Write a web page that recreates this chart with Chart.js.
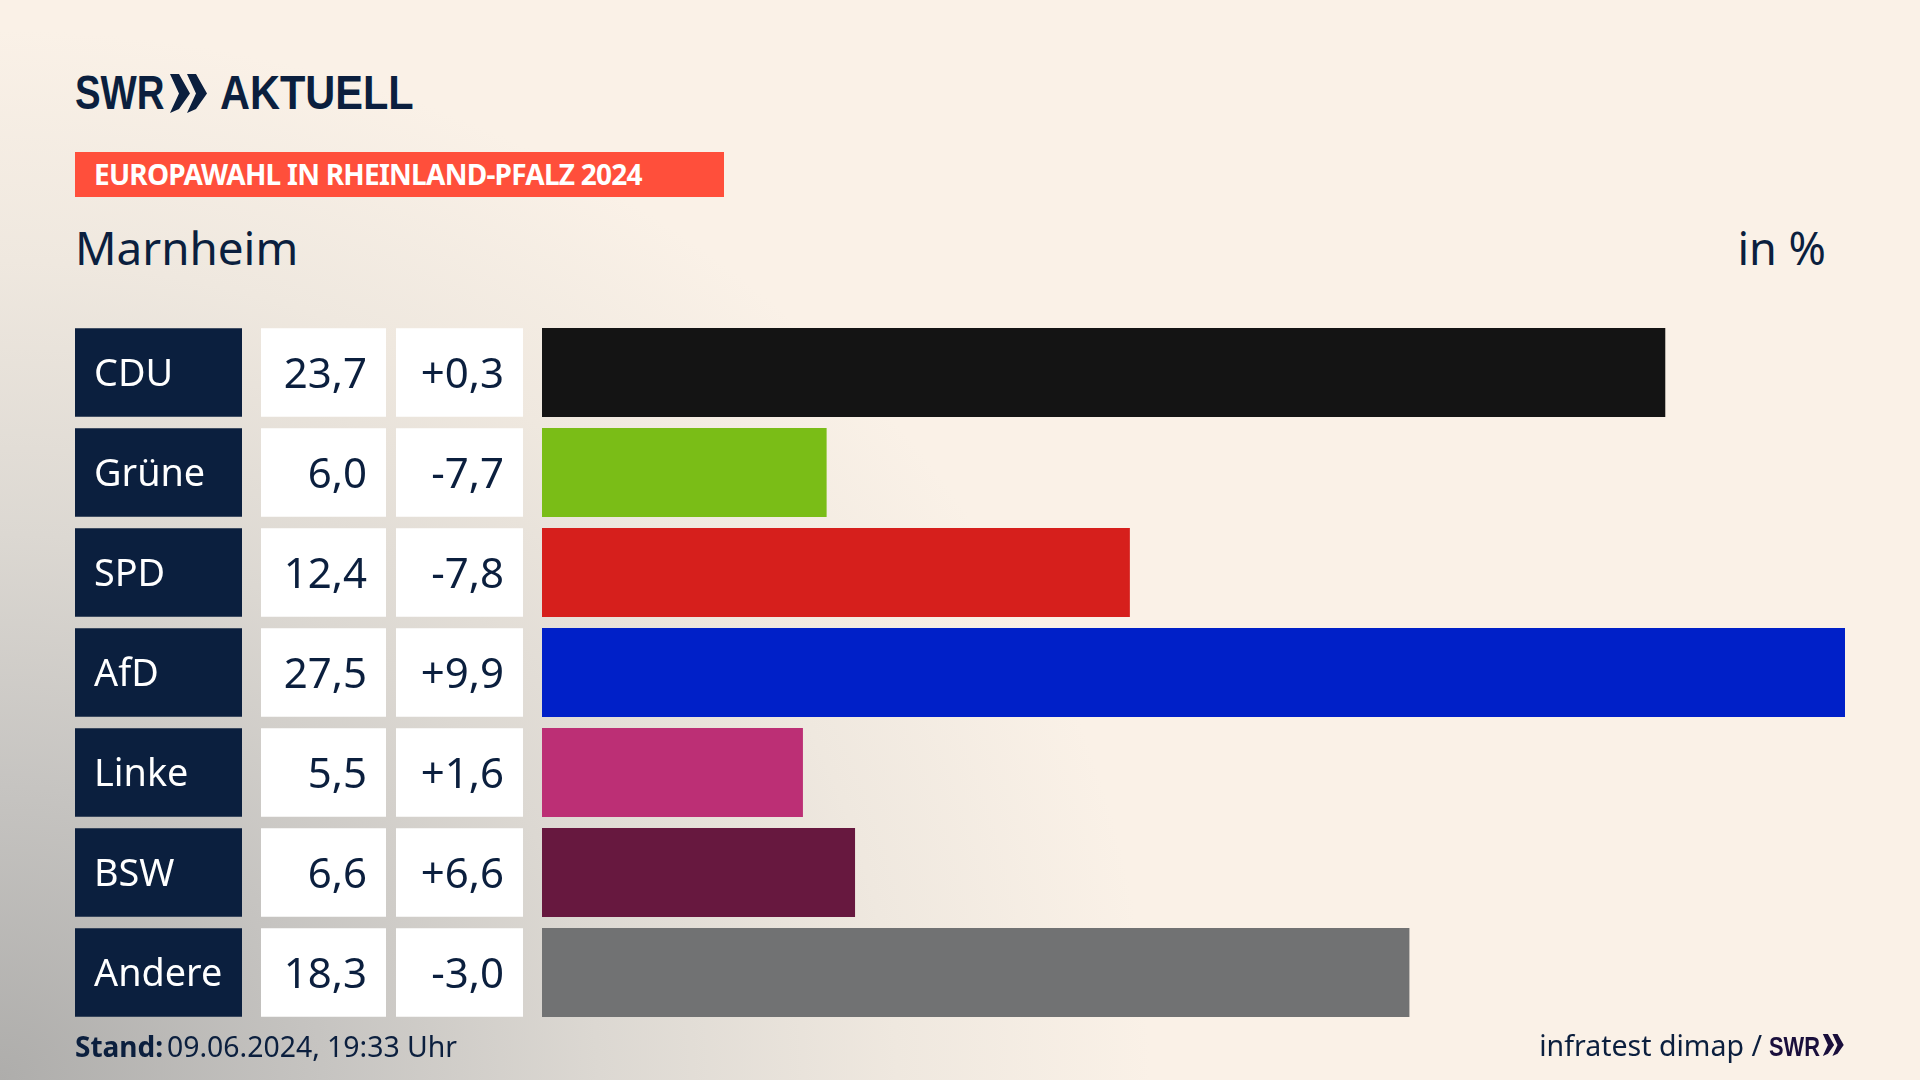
<!DOCTYPE html>
<html lang="de">
<head>
<meta charset="utf-8">
<title>Europawahl Marnheim</title>
<script src="https://cdn.jsdelivr.net/npm/chart.js@4"></script>
<style>
  html, body { margin: 0; padding: 0; }
  body {
    width: 1920px; height: 1080px; overflow: hidden; position: relative;
    font-family: "Noto Sans", sans-serif; color: #0b1f3e;
    background:
      radial-gradient(ellipse 1150px 1050px at 0 1080px, #aeadab 0%, #c6c4c1 28%, #dcd8d2 52%, #efe8df 78%, rgba(250,241,231,0) 100%),
      #faf1e7;
  }
  #chartBar { position: absolute; left: 0; top: 0; }
  .t { position: absolute; white-space: nowrap; transform-origin: left top; line-height: 1; }
  .logo { font-family: "Liberation Sans", sans-serif; font-weight: 700; }
  svg { position: absolute; }
</style>
</head>
<body>
<div class="t logo" style="left:75px;top:69px;font-size:48px;transform:scaleX(0.8)">SWR</div>
<svg style="left:169px;top:74px" width="38" height="39" viewBox="0 0 38 39"><path fill="#0b1f3e" d="M1 0 L10 0 L21 19.5 L10 35 L1 39 L10 19.5Z M18 0 L27 0 L38 19.5 L27 35 L18 39 L27 19.5Z"/></svg>
<div class="t logo" style="left:220px;top:69px;font-size:48px;transform:scaleX(0.865)">AKTUELL</div>
<div style="position:absolute;left:75px;top:152px;width:649px;height:45px;background:#ff4f3b"></div>
<div class="t" style="left:94px;top:160px;font-size:28px;font-weight:700;color:#fff;letter-spacing:-0.75px">EUROPAWAHL IN RHEINLAND-PFALZ 2024</div>
<div class="t" style="left:75px;top:225px;font-size:45.8px">Marnheim</div>
<div class="t" style="right:94px;top:225px;font-size:45px">in %</div>
<canvas id="chartBar" width="1920" height="1080"></canvas>
<div class="t" style="left:75px;top:1032px;font-size:28px;font-weight:700">Stand:</div>
<div class="t" style="left:167px;top:1032px;font-size:28.4px">09.06.2024, 19:33 Uhr</div>
<div class="t" style="right:158px;top:1031px;font-size:28.5px">infratest dimap /</div>
<div class="t logo" style="left:1769px;top:1033px;font-size:28px;transform:scaleX(0.78);color:#1a0f3c">SWR</div>
<svg style="left:1822px;top:1034px" width="22" height="22" viewBox="0 0 38 39"><path fill="#1a0f3c" d="M1 0 L10 0 L21 19.5 L10 35 L1 39 L10 19.5Z M18 0 L27 0 L38 19.5 L27 35 L18 39 L27 19.5Z"/></svg>
<script>
const parties = ["CDU", "Grüne", "SPD", "AfD", "Linke", "BSW", "Andere"];
const shares = [23.7, 6.0, 12.4, 27.5, 5.5, 6.6, 18.3];
const changes = [0.3, -7.7, -7.8, 9.9, 1.6, 6.6, -3.0];
const barColors = ["#141414", "#7abd17", "#d61f1c", "#0020c8", "#bc2f75", "#67183f", "#717273"];

const comma = (v) => v.toFixed(1).replace(".", ",");
const signed = (v) => (v > 0 ? "+" : "") + comma(v);

// table cells left of the bars, they sit on the same rows as the bars
const rowCells = {
  id: "rowCells",
  afterDatasetsDraw(chart) {
    const { ctx, scales } = chart;
    const bars = chart.getDatasetMeta(0).data;
    ctx.save();
    ctx.textBaseline = "alphabetic";
    parties.forEach((party, i) => {
      const mid = scales.y.getPixelForValue(i);
      const h = bars[i].height;
      const top = mid - h / 2;
      const base = mid + 15;
      ctx.fillStyle = "#0b1f3e";
      ctx.fillRect(75, top, 167, h);
      ctx.fillStyle = "#ffffff";
      ctx.fillRect(261, top, 125, h);
      ctx.fillRect(396, top, 127, h);
      ctx.font = '37.8px "Noto Sans"';
      ctx.textAlign = "left";
      ctx.fillText(party, 94, base - 2);
      ctx.fillStyle = "#0b1f3e";
      ctx.font = '42px "Noto Sans"';
      ctx.textAlign = "right";
      ctx.fillText(comma(shares[i]), 367, base);
      ctx.fillText(signed(changes[i]), 504, base);
    });
    ctx.restore();
  },
};

const chartBar = new Chart("chartBar", {
  type: "bar",
  data: {
    labels: parties,
    datasets: [
      {
        label: "",
        data: shares,
        backgroundColor: barColors,
        borderWidth: 0,
        barThickness: 88.5,
      },
    ],
  },
  options: {
    indexAxis: "y",
    responsive: false,
    animation: false,
    layout: { padding: { left: 542, right: 75, top: 322.5, bottom: 57.5 } },
    plugins: {
      legend: { display: false },
      tooltip: { enabled: false },
    },
    scales: {
      x: { display: false, min: 0, max: 27.5 },
      y: { display: false },
    },
  },
  plugins: [rowCells],
});
</script>
</body>
</html>
